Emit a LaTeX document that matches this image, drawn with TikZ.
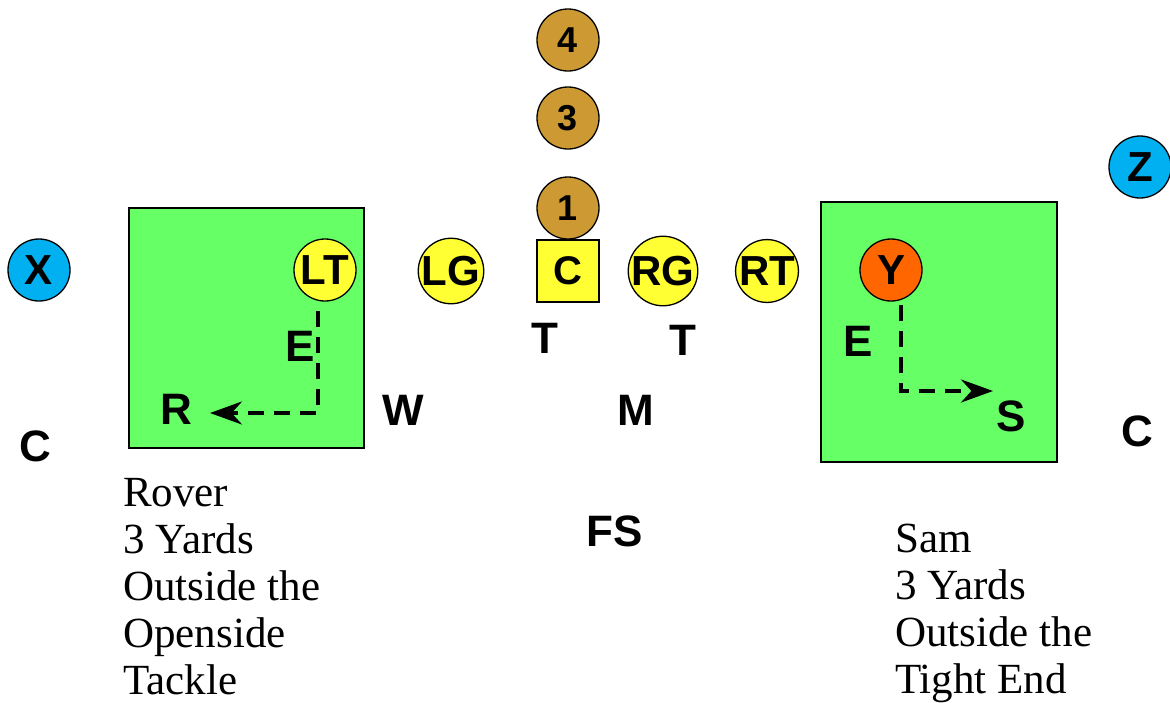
\documentclass[tikz,border=0pt]{standalone}
\usepackage{fontspec}
\setmainfont{Liberation Serif}
\newfontfamily\arialb{Liberation Sans}[BoldFont={* Bold}]
\usetikzlibrary{arrows.meta}
\definecolor{fieldgreen}{RGB}{102,255,102}
\definecolor{wrblue}{RGB}{0,176,240}
\definecolor{olyellow}{RGB}{255,255,51}
\definecolor{bkgold}{RGB}{204,153,51}
\definecolor{teorange}{RGB}{255,102,0}
\tikzset{
  player/.style={circle, draw=black, line width=1.3pt, minimum size=62pt, inner sep=0pt,
     font=\arialb\bfseries\fontsize{42}{42}\selectfont},
  back/.style={player, fill=bkgold, font=\arialb\bfseries\fontsize{36}{36}\selectfont},
  lineman/.style={player, fill=olyellow},
  receiver/.style={player, fill=wrblue},
  centerbox/.style={rectangle, draw=black, line width=1.3pt, fill=olyellow, minimum size=62pt, inner sep=0pt,
     font=\arialb\bfseries\fontsize{40}{40}\selectfont},
  zone/.style={draw=black, line width=1.5pt, fill=fieldgreen},
  deflabel/.style={font=\arialb\bfseries\fontsize{44}{44}\selectfont, inner sep=0pt},
  note/.style={font=\fontsize{43}{47}\selectfont, align=left, anchor=north west, inner sep=0pt},
  route/.style={line width=3.8pt, dash pattern=on 16pt off 10pt, -{Stealth[length=32pt,width=23pt]}}
}
\begin{document}
\begin{tikzpicture}[x=1pt,y=-1pt]
\useasboundingbox (0,0) rectangle (1170,702);
% zones
\path[zone] (129,208) rectangle (364,448);
\path[zone] (821,202) rectangle (1057,462);
% offense
\node[receiver] (X) at (39,270) {X};
\node[receiver] (Z) at (1140,167) {Z};
\node[lineman] (LT) at (325,270) {LT};
\node[lineman] (LG) at (451,271) {LG};
\node[centerbox] (C) at (568,271) {C};
\node[lineman] (RG) at (663,271) {RG};
\node[lineman] (RT) at (767,271) {RT};
\node[player, fill=teorange] (Y) at (891,270) {Y};
\node[back] (B1) at (568,208) {1};
\node[back] (B3) at (568,118) {3};
\node[back] (B4) at (568,40) {4};
% defense labels
\node[deflabel] (LE) at (300,346) {E};
\node[deflabel] (R) at (176,409) {R};
\node[deflabel] (W) at (403,410) {W};
\node[deflabel] (LC) at (35,446) {C};
\node[deflabel] (LTk) at (545,338) {T};
\node[deflabel] (RTk) at (683,340) {T};
\node[deflabel] (M) at (636,410) {M};
\node[deflabel] (FS) at (615,531) {FS};
\node[deflabel] (RE) at (858,341) {E};
\node[deflabel] (S) at (1011,416) {S};
\node[deflabel] (RC) at (1137,431) {C};
% routes
\coordinate (l0) at (318,311);
\coordinate (l1) at (318,413);
\coordinate (l2) at (210,413);
\draw[route] (l0) -- (l1) -- (l2);
\coordinate (r0) at (901,305);
\coordinate (r1) at (901,391);
\coordinate (r2) at (993,391);
\draw[route] (r0) -- (r1) -- (r2);
% notes
\node[note] (rover) at (123,478) {Rover\\3 Yards\\Outside the\\Openside\\Tackle};
\node[note] (sam) at (895,524) {Sam\\3 Yards\\Outside the\\Tight End};
\end{tikzpicture}
\end{document}
